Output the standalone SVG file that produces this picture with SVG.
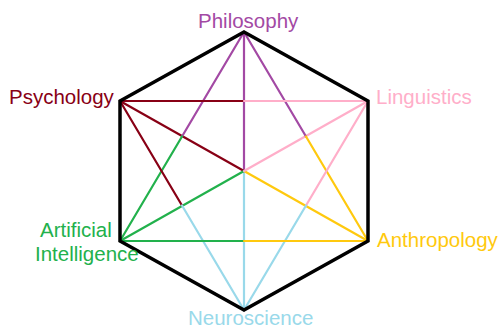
<svg xmlns="http://www.w3.org/2000/svg" width="498" height="328" viewBox="0 0 498 328">
<style>
text{font-family:"Liberation Sans",Arial,sans-serif;font-size:20.5px}
line{stroke-width:2.2;stroke-linecap:round}
.hex{fill:none;stroke:#000;stroke-width:3.5;stroke-linejoin:miter}
.phi{stroke:#A349A4}.psy{stroke:#880015}.lin{stroke:#FFAEC9}
.ai{stroke:#22B14C}.ant{stroke:#FFC90E}.neu{stroke:#99D9EA}
</style>
<rect width="498" height="328" fill="#fff"/>
<g id="connectors">
<line class="phi" x1="244" y1="32" x2="244" y2="171"/>
<line class="neu" x1="244" y1="171" x2="244" y2="310"/>
<line class="psy" x1="120" y1="101" x2="244" y2="171"/>
<line class="ant" x1="244" y1="171" x2="368" y2="241"/>
<line class="ai" x1="244" y1="171" x2="120" y2="241"/>
<line class="lin" x1="368" y1="101" x2="244" y2="171"/>
<line class="phi" x1="244" y1="32" x2="182" y2="136.5"/>
<line class="ai" x1="182" y1="136.5" x2="120" y2="241"/>
<line class="phi" x1="244" y1="32" x2="306" y2="136.5"/>
<line class="ant" x1="306" y1="136.5" x2="368" y2="241"/>
<line class="psy" x1="120" y1="101" x2="244" y2="101"/>
<line class="lin" x1="244" y1="101" x2="368" y2="101"/>
<line class="psy" x1="120" y1="101" x2="182" y2="205.5"/>
<line class="neu" x1="182" y1="205.5" x2="244" y2="310"/>
<line class="lin" x1="368" y1="101" x2="306" y2="205.5"/>
<line class="neu" x1="306" y1="205.5" x2="244" y2="310"/>
<line class="ai" x1="120" y1="241" x2="244" y2="241"/>
<line class="ant" x1="244" y1="241" x2="368" y2="241"/>
<polygon class="hex" points="244,32 368,101 368,241 244,310 120,241 120,101"/>
</g>
<g id="philosophy"><text x="198" y="28" fill="#A349A4">Philosophy</text></g>
<g id="psychology"><text x="9" y="104" fill="#880015">Psychology</text></g>
<g id="linguistics"><text x="376" y="104" fill="#FFAEC9">Linguistics</text></g>
<g id="artificial-intelligence"><text x="40" y="237" fill="#22B14C">Artificial</text><text x="35" y="261" fill="#22B14C">Intelligence</text></g>
<g id="anthropology"><text x="377" y="247" fill="#FFC90E">Anthropology</text></g>
<g id="neuroscience"><text x="188" y="325" fill="#99D9EA">Neuroscience</text></g>
</svg>
